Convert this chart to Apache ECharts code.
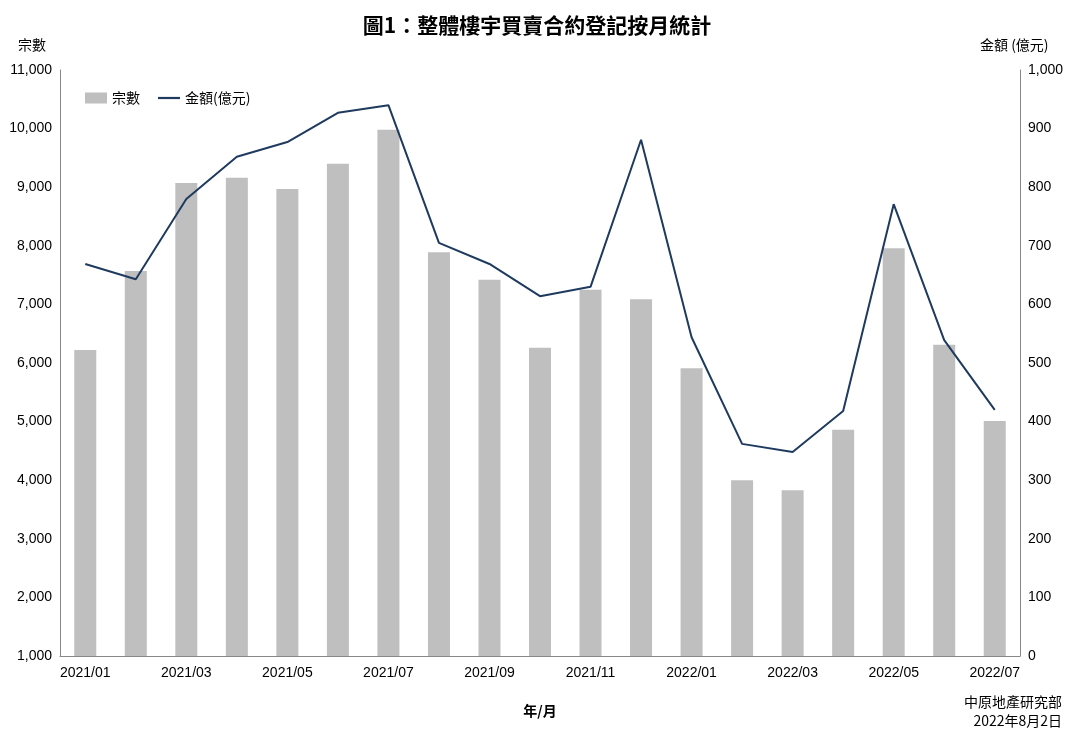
<!DOCTYPE html>
<html><head><meta charset="utf-8">
<script src="https://cdn.jsdelivr.net/npm/echarts@6/dist/echarts.min.js"></script>
<style>html,body{margin:0;padding:0;background:#fff}#c{width:1074px;height:747px}</style>
</head><body><div id="c"></div>
<script>
const categories=['2021/01','2021/02','2021/03','2021/04','2021/05','2021/06','2021/07','2021/08','2021/09','2021/10','2021/11','2021/12','2022/01','2022/02','2022/03','2022/04','2022/05','2022/06','2022/07'];
const counts=[6220,7570,9070,9160,8970,9400,9980,7890,7420,6260,7250,7090,5910,4000,3830,4860,7960,6310,5010];
const amounts=[669,643,780,852,877,927,940,705,669,614,630,881,544,362,348,418,771,539,420];
const F='"Liberation Sans",Arial,sans-serif';
const C='"Noto Sans CJK TC",sans-serif';
const chart=echarts.init(document.getElementById('c'));
chart.setOption({
  animation:false,
  textStyle:{fontFamily:F,color:'#000'},
  title:{text:'圖1：整體樓宇買賣合約登記按月統計',left:'center',top:10,textStyle:{fontFamily:C,fontSize:21,fontWeight:'bold',color:'#000'}},
  legend:{left:80,top:86,itemGap:18,textStyle:{fontSize:14,fontFamily:C,color:'#000'},
    data:[{name:'宗數',icon:'rect'},{name:'金額(億元)',icon:'path://M0,0H10V1H0Z'}],itemWidth:22,itemHeight:11},
  grid:{left:60,right:54,top:70,bottom:91},
  xAxis:{type:'category',data:categories,
    axisLine:{lineStyle:{color:'#888'}},axisTick:{show:false},
    axisLabel:{interval:1,fontSize:14,color:'#000',fontFamily:F,margin:10},
    name:'年/月',nameLocation:'middle',nameGap:48,nameTextStyle:{fontSize:14,fontWeight:'bold',fontFamily:C}},
  yAxis:[
    {type:'value',min:1000,max:11000,interval:1000,
     axisLine:{show:true,lineStyle:{color:'#888'}},axisTick:{show:false},splitLine:{show:false},
     axisLabel:{fontSize:14,color:'#000',fontFamily:F,formatter:v=>v.toLocaleString('en-US')},
     name:'宗數',nameLocation:'end',nameGap:18,nameTextStyle:{align:'right',padding:[0,14,0,0],fontSize:14,fontFamily:C}},
    {type:'value',min:0,max:1000,interval:100,
     axisLine:{show:true,lineStyle:{color:'#888'}},axisTick:{show:false},splitLine:{show:false},
     axisLabel:{fontSize:14,color:'#000',fontFamily:F,formatter:v=>v.toLocaleString('en-US')},
     name:'金額 (億元)',nameLocation:'end',nameGap:18,nameTextStyle:{align:'left',padding:[0,0,0,-40],fontSize:14,fontFamily:C}}
  ],
  graphic:[{type:'text',right:12,top:692,style:{text:'中原地產研究部\n2022年8月2日',textAlign:'right',fontSize:14,lineHeight:19,fill:'#000',fontFamily:C}}],
  series:[
    {name:'宗數',type:'bar',data:counts,barWidth:22,itemStyle:{color:'#bfbfbf'}},
    {name:'金額(億元)',type:'line',yAxisIndex:1,data:amounts,showSymbol:false,symbol:'none',lineStyle:{color:'#1f3a5f',width:2},itemStyle:{color:'#1f3a5f'}}
  ]
});
</script></body></html>
